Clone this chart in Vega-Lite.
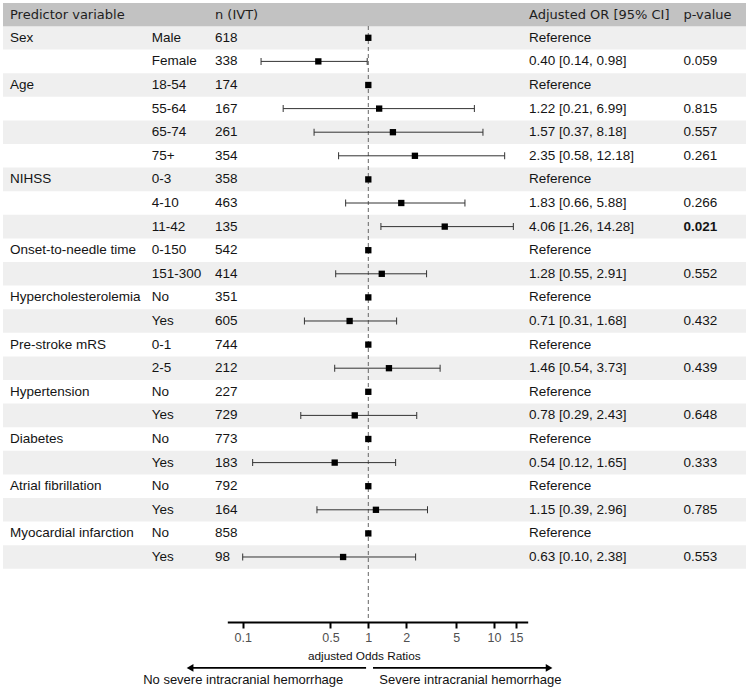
{
  "$schema": "https://vega.github.io/schema/vega-lite/v6.json",
  "width": 743,
  "height": 688,
  "autosize": {"type": "none"},
  "padding": {"left": 3, "right": 3, "top": 3, "bottom": 0},
  "background": "white",
  "config": {"view": {"stroke": null}, "font": "Liberation Sans"},
  "datasets": {
    "rows": [
      {"row": 0, "var": "Sex", "level": "Male", "n": 618, "or": 1, "lo": null, "hi": null, "ortxt": "Reference", "p": ""},
      {"row": 1, "var": "", "level": "Female", "n": 338, "or": 0.40, "lo": 0.14, "hi": 0.98, "ortxt": "0.40 [0.14, 0.98]", "p": "0.059"},
      {"row": 2, "var": "Age", "level": "18-54", "n": 174, "or": 1, "lo": null, "hi": null, "ortxt": "Reference", "p": ""},
      {"row": 3, "var": "", "level": "55-64", "n": 167, "or": 1.22, "lo": 0.21, "hi": 6.99, "ortxt": "1.22 [0.21, 6.99]", "p": "0.815"},
      {"row": 4, "var": "", "level": "65-74", "n": 261, "or": 1.57, "lo": 0.37, "hi": 8.18, "ortxt": "1.57 [0.37, 8.18]", "p": "0.557"},
      {"row": 5, "var": "", "level": "75+", "n": 354, "or": 2.35, "lo": 0.58, "hi": 12.18, "ortxt": "2.35 [0.58, 12.18]", "p": "0.261"},
      {"row": 6, "var": "NIHSS", "level": "0-3", "n": 358, "or": 1, "lo": null, "hi": null, "ortxt": "Reference", "p": ""},
      {"row": 7, "var": "", "level": "4-10", "n": 463, "or": 1.83, "lo": 0.66, "hi": 5.88, "ortxt": "1.83 [0.66, 5.88]", "p": "0.266"},
      {"row": 8, "var": "", "level": "11-42", "n": 135, "or": 4.06, "lo": 1.26, "hi": 14.28, "ortxt": "4.06 [1.26, 14.28]", "p": "0.021"},
      {"row": 9, "var": "Onset-to-needle time", "level": "0-150", "n": 542, "or": 1, "lo": null, "hi": null, "ortxt": "Reference", "p": ""},
      {"row": 10, "var": "", "level": "151-300", "n": 414, "or": 1.28, "lo": 0.55, "hi": 2.91, "ortxt": "1.28 [0.55, 2.91]", "p": "0.552"},
      {"row": 11, "var": "Hypercholesterolemia", "level": "No", "n": 351, "or": 1, "lo": null, "hi": null, "ortxt": "Reference", "p": ""},
      {"row": 12, "var": "", "level": "Yes", "n": 605, "or": 0.71, "lo": 0.31, "hi": 1.68, "ortxt": "0.71 [0.31, 1.68]", "p": "0.432"},
      {"row": 13, "var": "Pre-stroke mRS", "level": "0-1", "n": 744, "or": 1, "lo": null, "hi": null, "ortxt": "Reference", "p": ""},
      {"row": 14, "var": "", "level": "2-5", "n": 212, "or": 1.46, "lo": 0.54, "hi": 3.73, "ortxt": "1.46 [0.54, 3.73]", "p": "0.439"},
      {"row": 15, "var": "Hypertension", "level": "No", "n": 227, "or": 1, "lo": null, "hi": null, "ortxt": "Reference", "p": ""},
      {"row": 16, "var": "", "level": "Yes", "n": 729, "or": 0.78, "lo": 0.29, "hi": 2.43, "ortxt": "0.78 [0.29, 2.43]", "p": "0.648"},
      {"row": 17, "var": "Diabetes", "level": "No", "n": 773, "or": 1, "lo": null, "hi": null, "ortxt": "Reference", "p": ""},
      {"row": 18, "var": "", "level": "Yes", "n": 183, "or": 0.54, "lo": 0.12, "hi": 1.65, "ortxt": "0.54 [0.12, 1.65]", "p": "0.333"},
      {"row": 19, "var": "Atrial fibrillation", "level": "No", "n": 792, "or": 1, "lo": null, "hi": null, "ortxt": "Reference", "p": ""},
      {"row": 20, "var": "", "level": "Yes", "n": 164, "or": 1.15, "lo": 0.39, "hi": 2.96, "ortxt": "1.15 [0.39, 2.96]", "p": "0.785"},
      {"row": 21, "var": "Myocardial infarction", "level": "No", "n": 858, "or": 1, "lo": null, "hi": null, "ortxt": "Reference", "p": ""},
      {"row": 22, "var": "", "level": "Yes", "n": 98, "or": 0.63, "lo": 0.10, "hi": 2.38, "ortxt": "0.63 [0.10, 2.38]", "p": "0.553"}
    ],
    "columns": [
      {"key": "var", "col": 0, "header": "Predictor variable"},
      {"key": "level", "col": 1, "header": ""},
      {"key": "n", "col": 2, "header": "n (IVT)"},
      {"key": "ortxt", "col": 3, "header": "Adjusted OR [95% CI]"},
      {"key": "p", "col": 4, "header": "p-value"}
    ],
    "arrows": [
      {"side": "left", "from": 0.96, "to": 0.0381, "label": "No severe intracranial hemorrhage"},
      {"side": "right", "from": 1.09, "to": 27.5, "label": "Severe intracranial hemorrhage"}
    ]
  },
  "resolve": {"scale": {"x": "independent"}, "axis": {"x": "independent"}},
  "layer": [
    {
      "layer": [
        {
          "data": {"name": "rows"},
          "transform": [{"filter": "datum.row % 2 === 0"}],
          "mark": {"type": "rule", "strokeWidth": 23.6, "color": "#efefef", "strokeCap": "butt"},
          "encoding": {
            "y": {"field": "row", "type": "quantitative", "axis": null, "scale": {"domain": [-1.4746, 27.678], "range": [0, 688], "nice": false, "zero": false}}
          }
        },
        {
          "data": {"values": [{"h": 1}]},
          "mark": {"type": "rule", "strokeWidth": 23.2, "color": "#c2c2c2", "strokeCap": "butt"},
          "encoding": {
            "y": {"datum": -0.985, "type": "quantitative", "axis": null, "scale": {"domain": [-1.4746, 27.678], "range": [0, 688], "nice": false, "zero": false}}
          }
        },
        {
          "data": {"name": "columns"},
          "transform": [{"filter": "datum.header !== ''"}],
          "mark": {"type": "text", "align": "left", "baseline": "middle", "font": "DejaVu Sans", "fontSize": 13, "color": "#1e1e1e"},
          "encoding": {
            "x": {"field": "col", "type": "quantitative", "axis": null, "scale": {"domain": [0, 1, 2, 3, 4], "range": [7, 148.7, 212, 526, 680.5], "nice": false, "zero": false}},
            "y": {"datum": -0.985, "type": "quantitative", "axis": null, "scale": {"domain": [-1.4746, 27.678], "range": [0, 688], "nice": false, "zero": false}},
            "text": {"field": "header", "type": "nominal"}
          }
        },
        {
          "data": {"name": "rows"},
          "transform": [
            {"fold": ["var", "level", "n", "ortxt", "p"], "as": ["key", "value"]},
            {"filter": "datum.value !== ''"},
            {"filter": "!(datum.key === 'p' && toNumber(datum.value) < 0.05)"},
            {"lookup": "key", "from": {"data": {"name": "columns"}, "key": "key", "fields": ["col"]}}
          ],
          "mark": {"type": "text", "align": "left", "baseline": "middle", "fontSize": 13.5, "color": "#141414"},
          "encoding": {
            "x": {"field": "col", "type": "quantitative", "axis": null, "scale": {"domain": [0, 1, 2, 3, 4], "range": [7, 148.7, 212, 526, 680.5], "nice": false, "zero": false}},
            "y": {"field": "row", "type": "quantitative", "axis": null, "scale": {"domain": [-1.4746, 27.678], "range": [0, 688], "nice": false, "zero": false}},
            "text": {"field": "value", "type": "nominal"}
          }
        },
        {
          "data": {"name": "rows"},
          "transform": [
            {"fold": ["var", "level", "n", "ortxt", "p"], "as": ["key", "value"]},
            {"filter": "datum.value !== ''"},
            {"filter": "datum.key === 'p' && toNumber(datum.value) < 0.05"},
            {"lookup": "key", "from": {"data": {"name": "columns"}, "key": "key", "fields": ["col"]}}
          ],
          "mark": {"type": "text", "align": "left", "baseline": "middle", "fontSize": 13.5, "fontWeight": "bold", "color": "#141414"},
          "encoding": {
            "x": {"field": "col", "type": "quantitative", "axis": null, "scale": {"domain": [0, 1, 2, 3, 4], "range": [7, 148.7, 212, 526, 680.5], "nice": false, "zero": false}},
            "y": {"field": "row", "type": "quantitative", "axis": null, "scale": {"domain": [-1.4746, 27.678], "range": [0, 688], "nice": false, "zero": false}},
            "text": {"field": "value", "type": "nominal"}
          }
        }
      ]
    },
    {
      "layer": [
        {
          "data": {"name": "rows"},
          "mark": {"type": "point", "shape": "square", "filled": true, "size": 0, "opacity": 0},
          "encoding": {
            "x": {
              "field": "or",
              "type": "quantitative",
              "scale": {"type": "log", "domain": [0.0754, 18.58], "range": [224.3, 524.7], "nice": false},
              "axis": {
                "title": "adjusted Odds Ratios",
                "values": [0.1, 0.5, 1, 2, 5, 10, 15],
                "format": "~g",
                "offset": -69,
                "grid": false,
                "domainColor": "#000000",
                "domainWidth": 2,
                "tickColor": "#000000",
                "tickWidth": 2,
                "tickSize": 6,
                "labelFont": "Liberation Sans",
                "labelFontSize": 12.5,
                "labelColor": "#505050",
                "labelPadding": 3,
                "labelFlush": false,
                "labelOverlap": false,
                "titleFont": "Liberation Sans",
                "titleFontSize": 11.8,
                "titleFontWeight": "normal",
                "titleColor": "#111111",
                "titleX": 360.8,
                "titleY": 33,
                "titleBaseline": "middle",
                "titleAlign": "center"
              }
            },
            "y": {"field": "row", "type": "quantitative", "axis": null, "scale": {"domain": [-1.4746, 27.678], "range": [0, 688], "nice": false, "zero": false}}
          }
        },
        {
          "data": {"values": [{"ref": 1}]},
          "mark": {"type": "rule", "color": "#666666", "strokeWidth": 1, "strokeDash": [4, 3]},
          "encoding": {
            "x": {"datum": 1, "type": "quantitative"},
            "y": {"datum": -0.5, "type": "quantitative"},
            "y2": {"datum": 24.65}
          }
        },
        {
          "data": {"name": "rows"},
          "transform": [{"filter": "datum.lo != null"}],
          "mark": {"type": "rule", "color": "#333333", "strokeWidth": 1},
          "encoding": {
            "x": {"field": "lo", "type": "quantitative"},
            "x2": {"field": "hi"},
            "y": {"field": "row", "type": "quantitative"}
          }
        },
        {
          "data": {"name": "rows"},
          "transform": [
            {"filter": "datum.lo != null"},
            {"fold": ["lo", "hi"], "as": ["end", "val"]}
          ],
          "mark": {"type": "tick", "orient": "vertical", "size": 7, "thickness": 1, "color": "#333333", "opacity": 1},
          "encoding": {
            "x": {"field": "val", "type": "quantitative"},
            "y": {"field": "row", "type": "quantitative"}
          }
        },
        {
          "data": {"name": "rows"},
          "mark": {"type": "point", "shape": "square", "filled": true, "size": 40, "color": "#000000", "opacity": 1},
          "encoding": {
            "x": {"field": "or", "type": "quantitative"},
            "y": {"field": "row", "type": "quantitative"}
          }
        },
        {
          "data": {"name": "arrows"},
          "mark": {"type": "rule", "color": "#000000", "strokeWidth": 1.6},
          "encoding": {
            "x": {"field": "from", "type": "quantitative"},
            "x2": {"field": "to"},
            "y": {"datum": 26.7, "type": "quantitative"}
          }
        },
        {
          "data": {"name": "arrows"},
          "mark": {"type": "point", "filled": true, "size": 60, "color": "#000000", "opacity": 1},
          "encoding": {
            "x": {"field": "to", "type": "quantitative"},
            "y": {"datum": 26.7, "type": "quantitative"},
            "shape": {"field": "side", "type": "nominal", "scale": {"domain": ["left", "right"], "range": ["triangle-left", "triangle-right"]}, "legend": null}
          }
        },
        {
          "data": {"name": "arrows"},
          "transform": [{"filter": "datum.side === 'left'"}],
          "mark": {"type": "text", "align": "right", "baseline": "middle", "fontSize": 13, "color": "#111111", "dx": -25},
          "encoding": {
            "x": {"datum": 1, "type": "quantitative"},
            "y": {"datum": 27.21, "type": "quantitative"},
            "text": {"field": "label", "type": "nominal"}
          }
        },
        {
          "data": {"name": "arrows"},
          "transform": [{"filter": "datum.side === 'right'"}],
          "mark": {"type": "text", "align": "left", "baseline": "middle", "fontSize": 13, "color": "#111111", "dx": 11},
          "encoding": {
            "x": {"datum": 1, "type": "quantitative"},
            "y": {"datum": 27.21, "type": "quantitative"},
            "text": {"field": "label", "type": "nominal"}
          }
        }
      ]
    }
  ]
}
